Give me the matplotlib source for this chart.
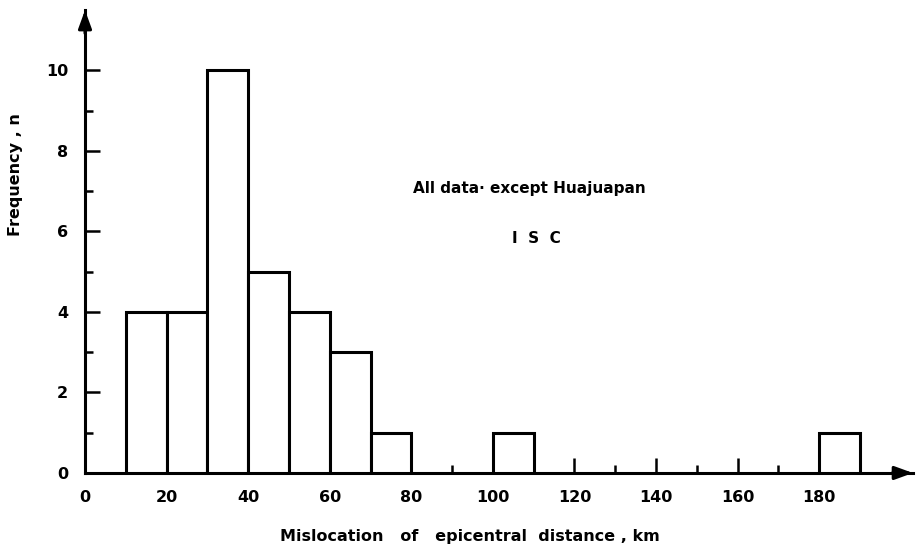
import matplotlib
matplotlib.use("Agg")
import matplotlib.pyplot as plt

# Data
bin_left = [10, 20, 30, 40, 50, 60, 70, 100, 180]
counts = [4, 4, 10, 5, 4, 3, 1, 1, 1]
bin_width = 10
x_ticks = [0, 20, 40, 60, 80, 100, 120, 140, 160, 180]
x_minor = [10, 30, 50, 70, 90, 110, 130, 150, 170]
y_ticks = [0, 2, 4, 6, 8, 10]
y_minor = [1, 3, 5, 7, 9]

plt.rcParams['font.family'] = ['DejaVu Sans']
fig = plt.figure(figsize=(9.17, 5.53), dpi=100)
ax = fig.add_axes([0.0927, 0.1447, 0.9029, 0.837])

ax.bar(bin_left, counts, width=bin_width, align='edge', facecolor='white',
       edgecolor='black', linewidth=2.2, zorder=3)

ax.set_xlim(0, 203)
ax.set_ylim(0, 11.5)

for s in ['top', 'right']:
    ax.spines[s].set_visible(False)
for s in ['left', 'bottom']:
    ax.spines[s].set_linewidth(2.2)

ax.set_xticks(x_ticks)
ax.set_yticks(y_ticks)
ax.set_xticks(x_minor, minor=True)
ax.set_yticks(y_minor, minor=True)

ax.tick_params(axis='both', which='major', direction='in', length=11, width=1.8,
               labelsize=11.5, pad=12)
ax.tick_params(axis='both', which='minor', direction='in', length=6, width=1.8)
for lab in ax.get_xticklabels() + ax.get_yticklabels():
    lab.set_fontweight('bold')

# Arrowheads
ax.annotate('', xy=(1.0, 0), xycoords='axes fraction', xytext=(0.975, 0),
            arrowprops=dict(arrowstyle='-|>,head_length=1.1,head_width=0.4',
                            color='black', lw=2.2, shrinkA=0, shrinkB=0),
            annotation_clip=False)
ax.annotate('', xy=(0, 1.0), xycoords='axes fraction', xytext=(0, 0.95),
            arrowprops=dict(arrowstyle='-|>,head_length=1.1,head_width=0.4',
                            color='black', lw=2.2, shrinkA=0, shrinkB=0),
            annotation_clip=False)

ax.set_ylabel('Frequency , n', fontsize=11.5, fontweight='bold')
ax.yaxis.set_label_coords(-0.075, 0.644)
ax.set_xlabel('Mislocation   of   epicentral  distance , km', fontsize=11.5,
              fontweight='bold')
ax.xaxis.set_label_coords(0.465, -0.122)

ax.text(109, 7.07, 'All data· except Huajuapan', ha='center', va='center',
        fontsize=11, fontweight='bold')
ax.text(110.6, 5.83, 'I  S  C', ha='center', va='center', fontsize=11,
        fontweight='bold')

fig.savefig('out.png', dpi=100)
